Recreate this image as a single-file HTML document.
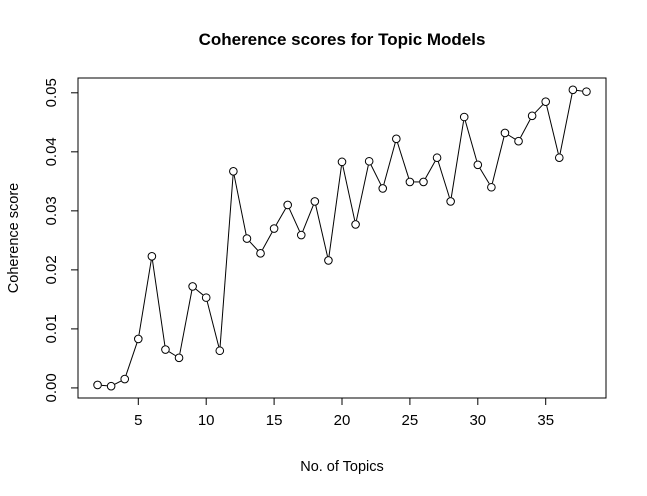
<!DOCTYPE html>
<html><head><meta charset="utf-8"><style>
html,body{margin:0;padding:0;background:#fff;}
svg{display:block;font-family:"Liberation Sans",Arial,sans-serif;}
</style></head><body>
<svg id="chart" width="647" height="496" viewBox="0 0 647 496" xmlns="http://www.w3.org/2000/svg">
<text x="342" y="45" text-anchor="middle" font-size="17" font-weight="bold">Coherence scores for Topic Models</text>
<rect x="78" y="78" width="528" height="320" fill="none" stroke="#000" stroke-width="1"/>
<text x="342" y="471" text-anchor="middle" font-size="14.5">No. of Topics</text>
<text transform="translate(18,238) rotate(-90)" text-anchor="middle" font-size="14.5">Coherence score</text>
<g id="xaxis"></g>
<g id="yaxis"></g>
<g id="series"></g>
</svg>
<script>
const topics = [2,3,4,5,6,7,8,9,10,11,12,13,14,15,16,17,18,19,20,21,22,23,24,25,26,27,28,29,30,31,32,33,34,35,36,37,38];
const scores = [0.0005,0.0003,0.0015,0.0083,0.0223,0.0065,0.0051,0.0172,0.0153,0.0063,0.0367,0.0253,0.0228,0.0270,0.0310,0.0259,0.0316,0.0216,0.0383,0.0277,0.0384,0.0338,0.0422,0.0349,0.0349,0.0390,0.0316,0.0459,0.0378,0.0340,0.0432,0.0418,0.0461,0.0485,0.0390,0.0505,0.0502];
const xTicks = [5,10,15,20,25,30,35];
const yTicks = [0,0.01,0.02,0.03,0.04,0.05];
const yTickLabels = ["0.00","0.01","0.02","0.03","0.04","0.05"];
const NS="http://www.w3.org/2000/svg";
const xMin=Math.min(...topics), xMax=Math.max(...topics);
const yMin=Math.min(...scores), yMax=Math.max(...scores);
const px0=78, px1=606, py0=398, py1=78;
const xr=[xMin-(xMax-xMin)*0.04, xMax+(xMax-xMin)*0.04];
const yr=[yMin-(yMax-yMin)*0.04, yMax+(yMax-yMin)*0.04];
const sx=v=>px0+(v-xr[0])/(xr[1]-xr[0])*(px1-px0);
const sy=v=>py0-(v-yr[0])/(yr[1]-yr[0])*(py0-py1);
function mk(tag,attrs,parent){const e=document.createElementNS(NS,tag);for(const k in attrs)e.setAttribute(k,attrs[k]);parent.appendChild(e);return e;}
const xa=document.getElementById('xaxis');
mk('line',{x1:sx(xTicks[0]),x2:sx(xTicks[xTicks.length-1]),y1:398,y2:398,stroke:'#000'},xa);
xTicks.forEach(t=>{
  const l=mk('line',{x1:sx(t),x2:sx(t),y1:398,y2:405,stroke:'#000'},xa);
  
  
  const tx=mk('text',{x:sx(t),y:425,'text-anchor':'middle','font-size':'15'},xa);
  tx.textContent=t;
  
  
});
const ya=document.getElementById('yaxis');
mk('line',{x1:78,x2:78,y1:sy(yTicks[0]),y2:sy(yTicks[yTicks.length-1]),stroke:'#000'},ya);
yTicks.forEach((t,i)=>{
  const l=mk('line',{x1:71,x2:78,y1:sy(t),y2:sy(t),stroke:'#000'},ya);
  
  
  const tx=mk('text',{transform:`translate(56,${sy(t)}) rotate(-90)`,'text-anchor':'middle','font-size':'15'},ya);
  tx.textContent=yTickLabels[i];
  
  
});
const sg=document.getElementById('series');
const pts=topics.map((t,i)=>[sx(t),sy(scores[i])]);
for(let i=0;i<pts.length-1;i++){
  const [x1,y1]=pts[i],[x2,y2]=pts[i+1];
  const d=Math.hypot(x2-x1,y2-y1), r=4.2;
  if(d<=2*r) continue;
  const ux=(x2-x1)/d, uy=(y2-y1)/d;
  const l=mk('line',{x1:x1+ux*r,y1:y1+uy*r,x2:x2-ux*r,y2:y2-uy*r,stroke:'#000','stroke-width':1},sg);
  
  
}
pts.forEach(p=>{
  const c=mk('circle',{cx:p[0],cy:p[1],r:3.8,fill:'none',stroke:'#000','stroke-width':1},sg);
  
  
});
</script>
</body></html>
